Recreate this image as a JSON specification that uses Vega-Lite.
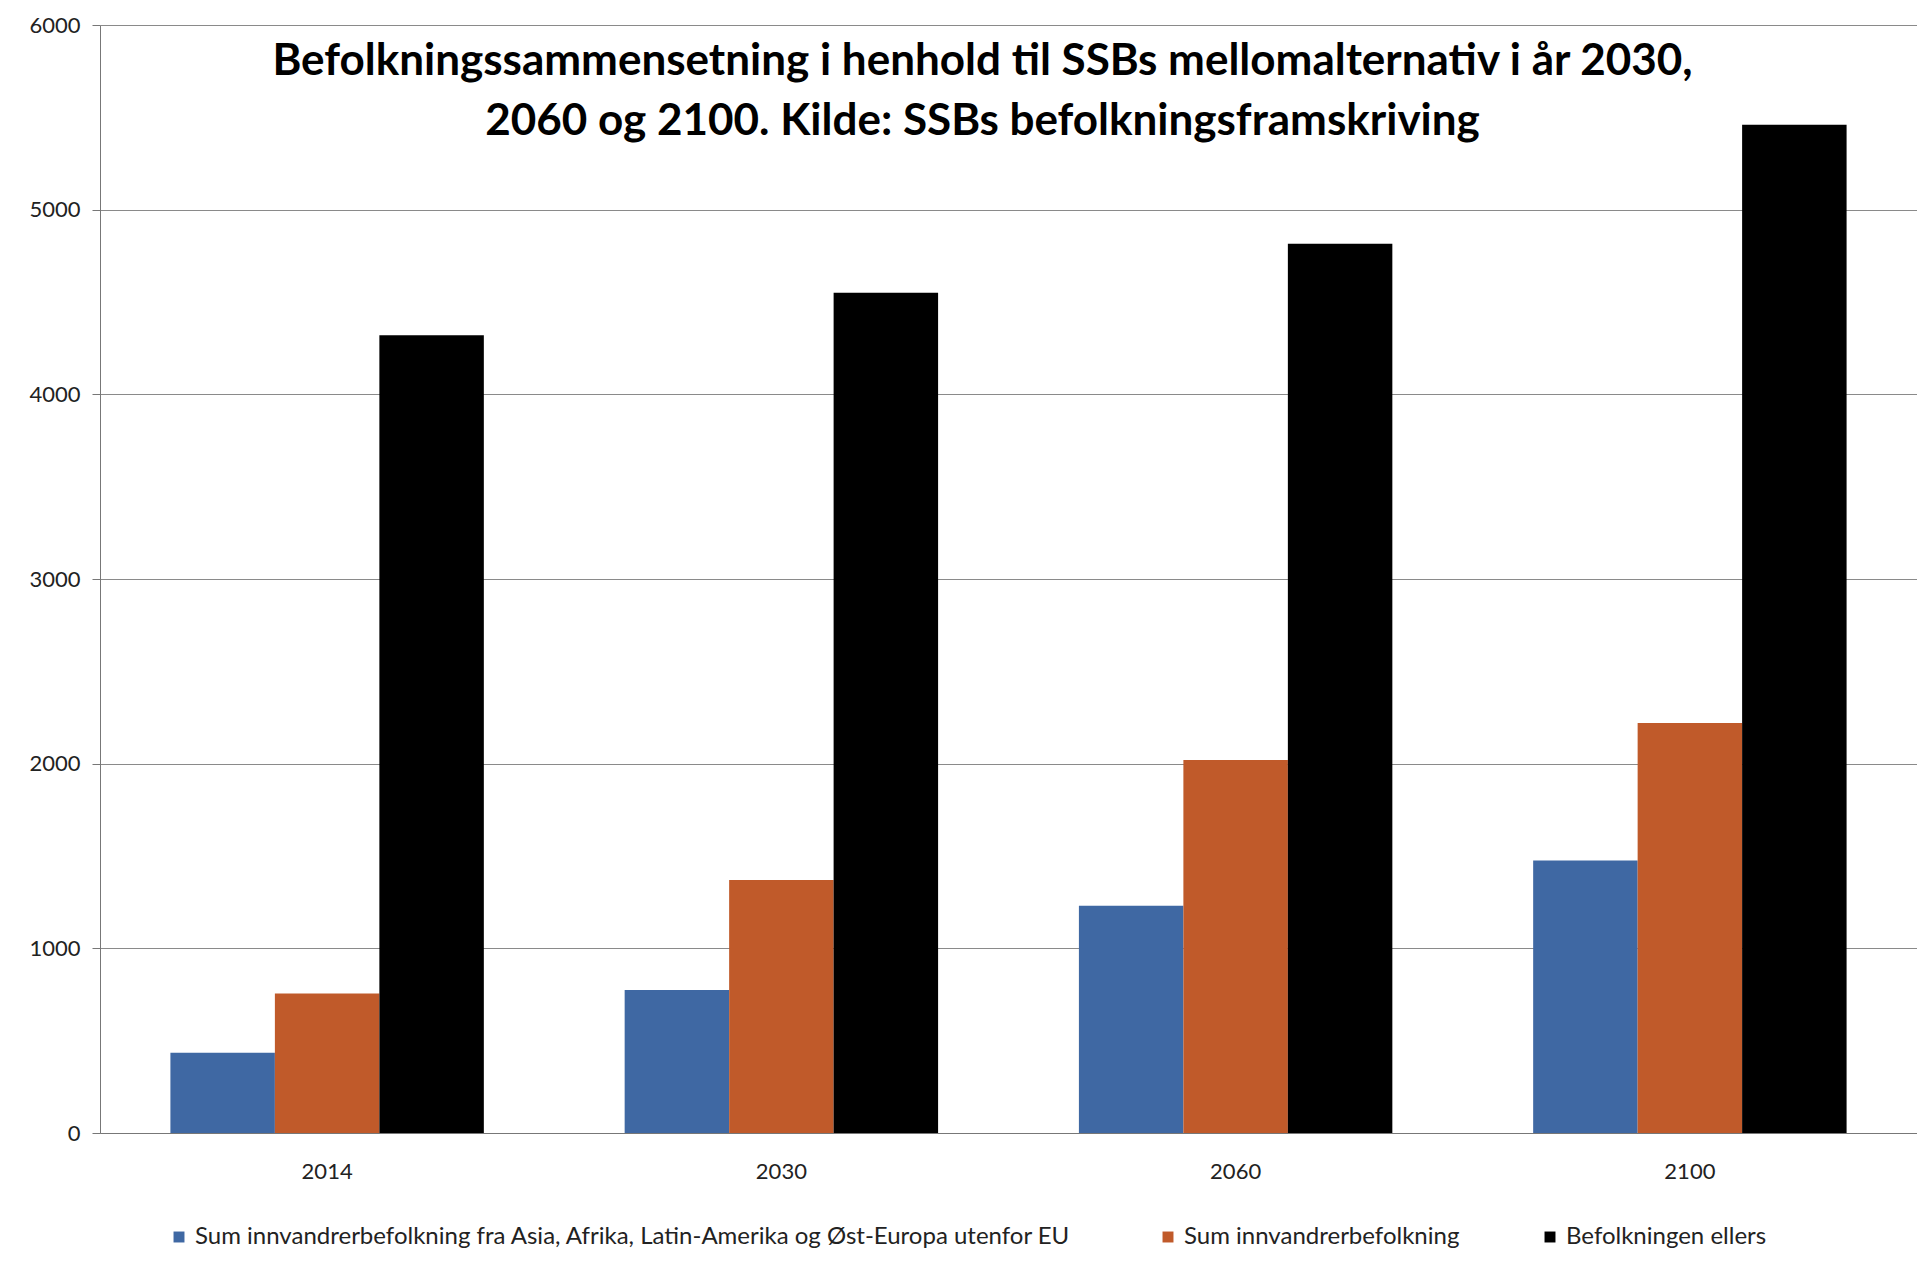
{
  "$schema": "https://vega.github.io/schema/vega-lite/v6.json",
  "autosize": {"type": "none"},
  "padding": {"left": 100, "top": 25, "right": 0, "bottom": 128},
  "width": 1817,
  "height": 1108,
  "background": "white",
  "title": {
    "text": ["Befolkningssammensetning i henhold til SSBs mellomalternativ i år 2030,", "2060 og 2100. Kilde: SSBs befolkningsframskriving"],
    "orient": "top",
    "anchor": "middle",
    "baseline": "top",
    "offset": 0,
    "dy": 130,
    "dx": -26,
    "font": "Lato",
    "fontSize": 44,
    "fontWeight": "bold",
    "lineHeight": 60,
    "color": "#000000"
  },
  "data": {
    "values": [
      {"year": "2014", "serie": "Sum innvandrerbefolkning  fra Asia, Afrika, Latin-Amerika og Øst-Europa utenfor EU", "value": 435},
      {"year": "2014", "serie": "Sum innvandrerbefolkning", "value": 755},
      {"year": "2014", "serie": "Befolkningen ellers", "value": 4320},
      {"year": "2030", "serie": "Sum innvandrerbefolkning  fra Asia, Afrika, Latin-Amerika og Øst-Europa utenfor EU", "value": 775},
      {"year": "2030", "serie": "Sum innvandrerbefolkning", "value": 1370},
      {"year": "2030", "serie": "Befolkningen ellers", "value": 4550},
      {"year": "2060", "serie": "Sum innvandrerbefolkning  fra Asia, Afrika, Latin-Amerika og Øst-Europa utenfor EU", "value": 1230},
      {"year": "2060", "serie": "Sum innvandrerbefolkning", "value": 2020},
      {"year": "2060", "serie": "Befolkningen ellers", "value": 4815},
      {"year": "2100", "serie": "Sum innvandrerbefolkning  fra Asia, Afrika, Latin-Amerika og Øst-Europa utenfor EU", "value": 1475},
      {"year": "2100", "serie": "Sum innvandrerbefolkning", "value": 2220},
      {"year": "2100", "serie": "Befolkningen ellers", "value": 5460}
    ]
  },
  "mark": {"type": "bar"},
  "encoding": {
    "x": {
      "field": "year",
      "type": "nominal",
      "scale": {"paddingInner": 0.31, "paddingOuter": 0.155},
      "axis": {
        "title": null,
        "labelAngle": 0,
        "labelFont": "Lato",
        "labelFontSize": 22,
        "labelColor": "#222222",
        "labelPadding": 28,
        "ticks": false,
        "domainColor": "#777777",
        "grid": false
      }
    },
    "xOffset": {
      "field": "serie",
      "type": "nominal",
      "sort": ["Sum innvandrerbefolkning  fra Asia, Afrika, Latin-Amerika og Øst-Europa utenfor EU", "Sum innvandrerbefolkning", "Befolkningen ellers"],
      "scale": {"paddingInner": 0}
    },
    "y": {
      "field": "value",
      "type": "quantitative",
      "scale": {"domain": [0, 6000], "nice": false},
      "axis": {
        "title": null,
        "values": [0, 1000, 2000, 3000, 4000, 5000, 6000],
        "format": "d",
        "labelFont": "Lato",
        "labelFontSize": 22,
        "labelColor": "#222222",
        "tickSize": 8,
        "tickColor": "#777777",
        "labelPadding": 12,
        "domainColor": "#777777",
        "gridColor": "#8a8a8a",
        "gridWidth": 1
      }
    },
    "color": {
      "field": "serie",
      "type": "nominal",
      "sort": ["Sum innvandrerbefolkning  fra Asia, Afrika, Latin-Amerika og Øst-Europa utenfor EU", "Sum innvandrerbefolkning", "Befolkningen ellers"],
      "scale": {
        "domain": ["Sum innvandrerbefolkning  fra Asia, Afrika, Latin-Amerika og Øst-Europa utenfor EU", "Sum innvandrerbefolkning", "Befolkningen ellers"],
        "range": ["#3f68a3", "#c05a2a", "#000000"]
      },
      "legend": {
        "title": null,
        "orient": "none",
        "legendX": 67,
        "legendY": 1200,
        "direction": "horizontal",
        "symbolType": "square",
        "symbolSize": 120,
        "symbolStrokeWidth": 0,
        "labelFont": "Lato",
        "labelFontSize": 24,
        "labelColor": "#222222",
        "labelLimit": 1400,
        "columnPadding": 78
      }
    }
  },
  "config": {
    "view": {"stroke": null}
  }
}
